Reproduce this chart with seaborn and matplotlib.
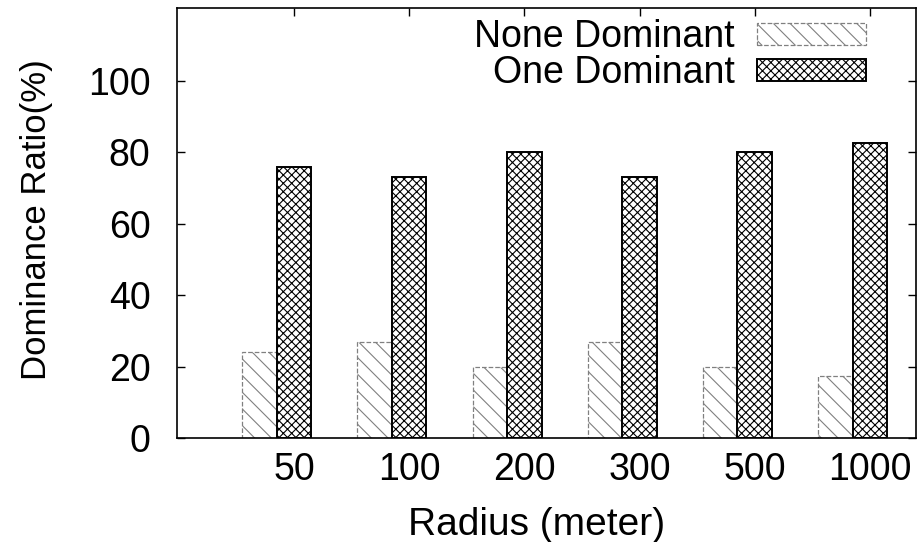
import matplotlib
matplotlib.use("Agg")
import matplotlib.pyplot as plt
import seaborn as sns
import pandas as pd
import numpy as np

radius = ["50", "100", "200", "300", "500", "1000"]
none_dominant = [24, 27, 20, 27, 20, 17.5]
one_dominant = [76, 73, 80, 73, 80, 82.5]
series = ["None Dominant", "One Dominant"]
y_ticks = [0, 20, 40, 60, 80, 100]

df = pd.DataFrame({
    "radius": radius * 2,
    "ratio": none_dominant + one_dominant,
    "series": [series[0]] * len(radius) + [series[1]] * len(radius),
})

sns.set_style("ticks")
plt.rcParams["font.family"] = ["Liberation Sans", "DejaVu Sans"]
plt.rcParams["text.color"] = "black"
plt.rcParams["axes.labelcolor"] = "black"
plt.rcParams["xtick.color"] = "black"
plt.rcParams["ytick.color"] = "black"
plt.rcParams["hatch.linewidth"] = 0.8

fig = plt.figure(figsize=(9.17, 5.42), dpi=100)
ax = fig.add_axes([177 / 917, 104 / 542, 739 / 917, 430 / 542])

sns.barplot(
    data=df,
    x="radius",
    y="ratio",
    hue="series",
    order=radius,
    hue_order=series,
    palette=["white", "white"],
    saturation=1,
    width=0.6,
    legend=False,
    ax=ax
)

# gnuplot style fills
none_bars, one_bars = ax.containers
for bar in none_bars:
    bar.set_hatch("\\\\")
    bar.set_edgecolor("0.5")
    bar.set_linestyle("--")
    bar.set_linewidth(0.9)
for bar in one_bars:
    bar.set_hatch("xxxx")
    bar.set_edgecolor("black")
    bar.set_linewidth(1.4)

ax.set_xticks(np.arange(len(radius)) + 0.15, radius)
ax.set_xlim(-0.866, 5.55)
ax.set_ylim(0, 120.4)
ax.set_yticks(y_ticks)

ax.tick_params(axis="x", bottom=False, top=True, direction="in",
               length=6, width=1, labelsize=27, pad=10)
ax.tick_params(axis="y", left=True, right=True, direction="in",
               length=6, width=1, labelsize=27, pad=19)

for spine in ax.spines.values():
    spine.set_visible(True)
    spine.set_linewidth(1.2)
    spine.set_color("black")

ax.set_xlabel("Radius (meter)", fontsize=28)
ax.set_ylabel("Dominance Ratio(%)", fontsize=25)
ax.xaxis.set_label_coords(0.486, -0.16)
ax.yaxis.set_label_coords(-0.168, 0.507)

ax.legend(
    handles=[none_bars, one_bars],
    labels=series,
    loc="upper right",
    bbox_to_anchor=(0.932, 0.974),
    markerfirst=False,
    frameon=False,
    fontsize=27,
    handlelength=2.9,
    handleheight=0.55,
    handletextpad=0.6,
    labelspacing=0.0,
    borderpad=0,
    borderaxespad=0
)

plt.savefig("out.png", dpi=100)
plt.close()
